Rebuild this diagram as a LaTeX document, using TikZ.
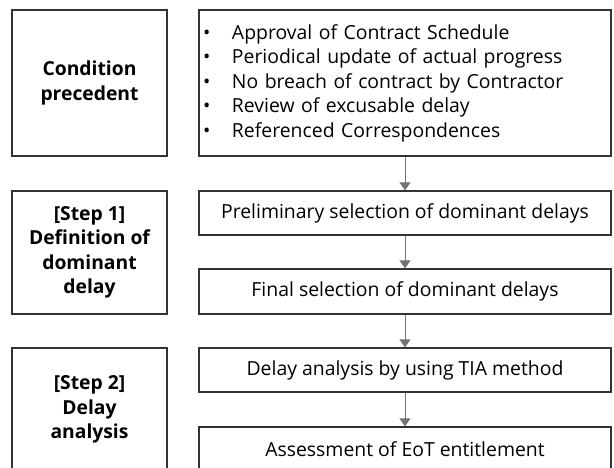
\documentclass[tikz,border=0pt]{standalone}
\usepackage{fontspec}
\setmainfont{Open Sans}
\usetikzlibrary{arrows.meta}
\begin{document}
\begin{tikzpicture}[x=1pt,y=-1pt,
  stage/.style={draw=black!80, line width=1.3pt, minimum width=155pt, inner sep=0pt,
    align=center, font=\fontsize{19.3}{24.5}\selectfont\bfseries},
  task/.style={draw=black!80, line width=1.3pt, minimum width=412pt, minimum height=44pt,
    inner sep=0pt, font=\fontsize{19.4}{24.5}\selectfont},
  flow/.style={draw=black!55, line width=1pt, -{Triangle[length=8pt,width=11pt]}}]
\clip (0,0) rectangle (614,467);

\node[stage, minimum height=146pt] (cond) at (89.5,83) {Condition\\precedent};
\node[stage, minimum height=123pt] (step1) at (89.5,252.5) {[Step 1]\\Definition of\\dominant\\delay};
\node[stage, minimum height=123pt] (step2) at (89.5,409.5) {[Step 2]\\Delay\\analysis};

\node[task, minimum height=146pt, inner xsep=4pt, text width=404pt, align=left] (req) at (405,83) {%
\makebox[29pt][l]{•}Approval of Contract Schedule\\
\makebox[29pt][l]{•}Periodical update of actual progress\\
\makebox[29pt][l]{•}No breach of contract by Contractor\\
\makebox[29pt][l]{•}Review of excusable delay\\
\makebox[29pt][l]{•}Referenced Correspondences};
\node[task] (pre) at (405,213) {Preliminary selection of dominant delays};
\node[task, minimum height=45pt] (fin) at (405,291.5) {Final selection of dominant delays};
\node[task] (tia) at (405,370) {Delay analysis by using TIA method};
\node[task] (eot) at (405,449) {Assessment of EoT entitlement};

\path[flow] (req) -- (pre);
\path[flow] (pre) -- (fin);
\path[flow] (fin) -- (tia);
\path[flow] (tia) -- (eot);

\end{tikzpicture}
\end{document}
